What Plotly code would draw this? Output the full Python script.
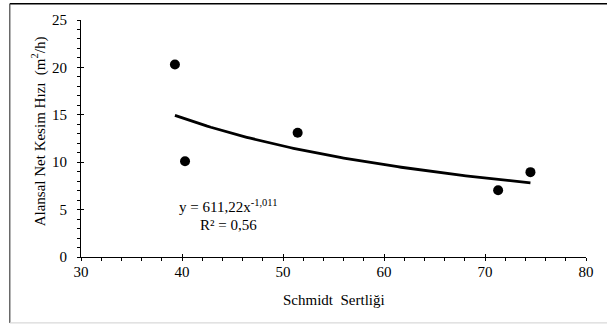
import numpy as np
import plotly.graph_objects as go

# Data
schmidt = [39.3, 40.3, 51.45, 71.3, 74.5]
kesim_hizi = [20.3, 10.1, 13.1, 7.05, 8.95]

# Power trendline coefficients (as shown in the chart)
coef_a = 611.22
coef_b = -1.011
eq_text = "y = 611,22x<sup>-1,011</sup>"
r2_text = "R² = 0,56"

x_ticks = [30, 40, 50, 60, 70, 80]
y_ticks = [0, 5, 10, 15, 20, 25]

W, H = 607, 325
L, R, T, B = 80.7, 21.3, 18.3, 68.3

xt = np.linspace(min(schmidt), max(schmidt), 100)
yt = coef_a * xt ** coef_b

font = "Liberation Serif"

fig = go.Figure()
fig.add_trace(go.Scatter(x=xt, y=yt, mode="lines",
                         line=dict(color="black", width=2.8), hoverinfo="skip",
                         showlegend=False))
fig.add_trace(go.Scatter(x=schmidt, y=kesim_hizi, mode="markers",
                         marker=dict(color="black", size=10), showlegend=False))
# dummy trace for overlay axes (crossing major ticks)
fig.add_trace(go.Scatter(x=[None], y=[None], xaxis="x2", yaxis="y2", showlegend=False))


def px_x(p):
    return (p - L) / (W - L - R)


def px_y(p):
    return ((H - B) - p) / (H - T - B)


fig.update_layout(
    width=W, height=H,
    margin=dict(l=L, r=R, t=T, b=B),
    paper_bgcolor="white", plot_bgcolor="white",
    font=dict(family=font, size=15, color="black"),
    xaxis=dict(range=[30, 80], tickvals=x_ticks, ticks="outside", ticklen=3,
               ticklabelstandoff=-2,
               showgrid=False, zeroline=False, showline=True, linecolor="black",
               linewidth=1, tickcolor="black", tickwidth=1,
               tickfont=dict(family=font, size=15, color="black"),
               minor=dict(dtick=2, ticks="outside", ticklen=3, tickcolor="black", tickwidth=1)),
    yaxis=dict(range=[0, 25], tickvals=y_ticks, ticks="outside", ticklen=3,
               ticklabelstandoff=7,
               showgrid=False, zeroline=False, showline=True, linecolor="black",
               linewidth=1, tickcolor="black", tickwidth=1,
               tickfont=dict(family=font, size=15, color="black"),
               minor=dict(dtick=1, ticks="outside", ticklen=3, tickcolor="black", tickwidth=1)),
    xaxis2=dict(range=[30, 80], overlaying="x", tickvals=x_ticks, ticks="inside", ticklen=3,
                showticklabels=False, showgrid=False, zeroline=False, showline=False,
                tickcolor="black", anchor="y"),
    yaxis2=dict(range=[0, 25], overlaying="y", tickvals=y_ticks, ticks="inside", ticklen=3,
                showticklabels=False, showgrid=False, zeroline=False, showline=False,
                tickcolor="black", anchor="x"),
    annotations=[
        dict(text="Schmidt  Sertliği", xref="paper", yref="paper",
             x=0.5, y=px_y(300), yanchor="middle", showarrow=False,
             font=dict(family=font, size=15, color="black")),
        dict(text="Alansal Net Kesim Hızı  (m<sup>2</sup>/h)", textangle=-90,
             xref="paper", yref="paper",
             x=px_x(38), y=px_y(130),
             xanchor="center", yanchor="middle", showarrow=False,
             font=dict(family=font, size=15, color="black")),
        dict(text=eq_text, xref="paper", yref="paper",
             x=px_x(228), y=px_y(205),
             xanchor="center", yanchor="middle", showarrow=False,
             font=dict(family=font, size=15, color="black")),
        dict(text=r2_text, xref="paper", yref="paper",
             x=px_x(228), y=px_y(225),
             xanchor="center", yanchor="middle", showarrow=False,
             font=dict(family=font, size=15, color="black")),
    ],
    shapes=[
        dict(type="line", xref="paper", yref="paper", x0=px_x(9.5), x1=px_x(610),
             y0=px_y(2), y1=px_y(2), line=dict(color="black", width=1.5), layer="above"),
        dict(type="line", xref="paper", yref="paper", x0=px_x(9.5), x1=px_x(9.5),
             y0=px_y(2), y1=px_y(323), line=dict(color="#444444", width=1.2), layer="above"),
        dict(type="line", xref="paper", yref="paper", x0=px_x(9.5), x1=px_x(610),
             y0=px_y(323), y1=px_y(323), line=dict(color="#d9d9d9", width=1.2), layer="above"),
    ],
)

fig.write_html("out.html", config={"displayModeBar": False},
               post_script="document.body.style.margin='0';document.body.style.padding='0';")
